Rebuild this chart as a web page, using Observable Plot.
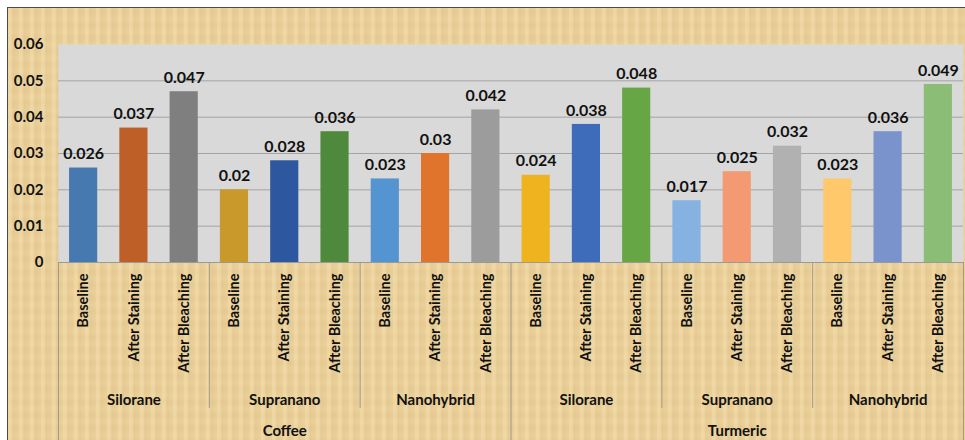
<!DOCTYPE html>
<html>
<head>
<meta charset="utf-8">
<script src="https://cdn.jsdelivr.net/npm/d3@7"></script>
<script src="https://cdn.jsdelivr.net/npm/@observablehq/plot@0.6"></script>
<style>
  html, body { margin: 0; padding: 0; background: #ffffff; }
  #wrap { position: absolute; left: 7px; top: 7px; width: 958px; height: 433px;
          border-top: 1.5px solid #4a4a4a; border-left: 1.5px solid #4a4a4a;
          background-color: #eacf98;
          background-image:
            repeating-linear-gradient(90deg, rgba(255,238,195,0.25) 0px, rgba(255,238,195,0.25) 3px, rgba(150,110,50,0.05) 5px, rgba(255,238,195,0) 11px),
            repeating-linear-gradient(0deg, rgba(150,110,50,0.03) 0px, rgba(255,240,200,0.08) 6px, rgba(150,110,50,0.03) 13px);
          overflow: hidden; }
</style>
</head>
<body>
<div id="wrap"></div>
<script>
const stains = ["Coffee", "Turmeric"];
const materials = ["Silorane", "Supranano", "Nanohybrid"];
const conditions = ["Baseline", "After Staining", "After Bleaching"];
const coffeeValues   = [0.026, 0.037, 0.047, 0.02, 0.028, 0.036, 0.023, 0.03, 0.042];
const turmericValues = [0.024, 0.038, 0.048, 0.017, 0.025, 0.032, 0.023, 0.036, 0.049];
const barColors = [
  "#4679b0", "#bf5f28", "#7f7f7f",
  "#c9992c", "#2d579e", "#4f8a3c",
  "#5394d1", "#e0742c", "#9c9c9c",
  "#eeb31e", "#3e6cba", "#66a645",
  "#85b2e0", "#f39a72", "#b1b1b1",
  "#fec86b", "#7a93cc", "#8cbd77"
];
const yTicks = [0, 0.01, 0.02, 0.03, 0.04, 0.05, 0.06];

// build table
const valuesByStain = [coffeeValues, turmericValues];
const rows = [];
stains.forEach((s, si) => materials.forEach((m, mi) => conditions.forEach((c, ci) => {
  const i = si * 9 + mi * 3 + ci;
  rows.push({i, stain: s, material: m, condition: c, value: valuesByStain[si][mi * 3 + ci], color: barColors[i]});
})));
const materialRows = rows.filter(d => d.condition === "After Staining");
const stainRows = rows.filter(d => d.material === "Supranano" && d.condition === "After Staining");
const subDividers = [3, 6, 12, 15];
const mainDividers = [0, 9, 18];

const PAD = 0.22;      // band padding each side
const SUB_END = -0.0402;   // extent of subgroup dividers below baseline
const MAIN_END = -0.052;   // extent of main dividers to bottom

const chart = Plot.plot({
  width: 958,
  height: 433,
  marginLeft: 50,
  marginTop: 36,
  marginRight: 3,
  marginBottom: 179,
  style: {fontFamily: "Lato, 'Open Sans', sans-serif", fontWeight: "bold", fontSize: "15px", color: "#111", background: "transparent", overflow: "visible"},
  x: {type: "linear", domain: [0, 18], axis: null},
  y: {domain: [0, 0.06], axis: null},
  marks: [
    Plot.frame({fill: "#d9d9d9", stroke: null}),
    Plot.ruleY(yTicks.filter(t => t > 0 && t < 0.06), {stroke: "#a3a3a3", strokeWidth: 1}),
    Plot.ruleY([0], {stroke: "#9a9a9a", strokeWidth: 1}),
    Plot.rectY(rows, {x1: d => d.i + PAD, x2: d => d.i + 1 - PAD, y1: 0, y2: "value", fill: "color"}),
    Plot.text(rows, {x: d => d.i + 0.5, y: "value", text: d => String(d.value), dy: -14, fontSize: 16, fontWeight: "bold", fill: "#111"}),
    Plot.axisY({ticks: yTicks, label: null, tickSize: 0, tickPadding: 15, tickFormat: d => d === 0 ? "0" : d.toFixed(2), fontSize: 15, fontWeight: "bold", fill: "#111"}),
    Plot.ruleX(subDividers, {y1: 0, y2: SUB_END, stroke: "#a09a8c", strokeWidth: 1}),
    Plot.ruleX(mainDividers, {y1: 0, y2: MAIN_END, stroke: "#a09a8c", strokeWidth: 1}),
    Plot.text(rows, {x: d => d.i + 0.5, y: 0, text: "condition", rotate: -90, textAnchor: "end", dy: 11, fontSize: 14.5, fontWeight: "bold", fill: "#111"}),
    Plot.text(materialRows, {x: d => d.i + 0.5, y: 0, text: "material", dy: 138, fontSize: 15, fontWeight: "bold", fill: "#111"}),
    Plot.text(stainRows, {x: d => d.i + 0.5, y: 0, text: "stain", dy: 169, fontSize: 15, fontWeight: "bold", fill: "#111"})
  ]
});
document.getElementById("wrap").appendChild(chart);
</script>
</body>
</html>
